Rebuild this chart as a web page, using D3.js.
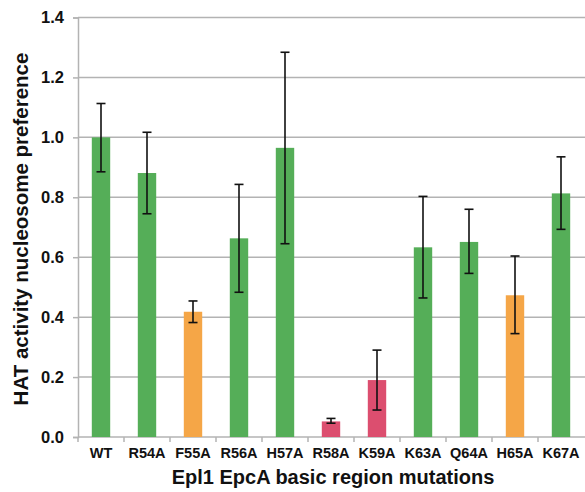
<!DOCTYPE html>
<html><head><meta charset="utf-8">
<script src="https://cdn.jsdelivr.net/npm/d3@7"></script>
<style>body{margin:0;background:#fff}svg{display:block}</style>
</head><body>
<script>
const categories = ["WT","R54A","F55A","R56A","H57A","R58A","K59A","K63A","Q64A","H65A","K67A"];
const values     = [1.000,0.881,0.418,0.663,0.965,0.052,0.190,0.633,0.651,0.473,0.813];
const errUpper   = [1.113,1.017,0.454,0.843,1.284,0.062,0.290,0.803,0.760,0.604,0.935];
const errLower   = [0.885,0.745,0.382,0.483,0.645,0.046,0.090,0.464,0.546,0.345,0.693];
const groups     = ["g","g","o","g","g","r","r","g","g","o","g"];
const yTicks     = [0,0.2,0.4,0.6,0.8,1.0,1.2,1.4];
const colors = {g:"#55AE58", o:"#F5A647", r:"#DC4E6F"};

const W=585,H=492;
const m={left:78,right:1,top:17.5,bottom:55};
const svg=d3.select("body").append("svg").attr("width",W).attr("height",H);
const x=d3.scaleBand().domain(categories).range([m.left,m.left+46*11]).paddingInner(0.6).paddingOuter(0.3);
const y=d3.scaleLinear().domain([0,1.4]).range([H-m.bottom,m.top]);

// gridlines
svg.append("g").selectAll("line").data(yTicks.slice(1)).join("line")
  .attr("x1",m.left).attr("x2",W).attr("y1",d=>y(d)).attr("y2",d=>y(d))
  .attr("stroke","#b3b3b3").attr("stroke-width",1.5);

// y axis
const ya=svg.append("g").attr("transform",`translate(${m.left},0)`)
  .call(d3.axisLeft(y).tickValues(yTicks).tickFormat(d3.format(".1f")).tickSize(5).tickPadding(9));
ya.select(".domain").attr("stroke","#b3b3b3").attr("stroke-width",1.5);
ya.selectAll(".tick line").attr("stroke","#b3b3b3").attr("stroke-width",1.5);
ya.selectAll("text").attr("font-family","Liberation Sans, Arial, sans-serif").attr("font-weight","bold").attr("font-size",16.5).attr("fill","#111");

// x axis line with boundary ticks
const x0=y(0);
svg.append("line").attr("x1",m.left).attr("x2",W).attr("y1",x0).attr("y2",x0).attr("stroke","#b3b3b3").attr("stroke-width",1.5);
const step=x.step();
svg.append("g").selectAll("line").data(categories).join("line")
  .attr("x1",d=>x(d)-(step-x.bandwidth())/2).attr("x2",d=>x(d)-(step-x.bandwidth())/2)
  .attr("y1",x0).attr("y2",x0+5).attr("stroke","#b3b3b3").attr("stroke-width",1.5);

// bars
svg.append("g").selectAll("rect").data(categories).join("rect")
  .attr("x",d=>x(d)).attr("width",x.bandwidth())
  .attr("y",(d,i)=>y(values[i])).attr("height",(d,i)=>y(0)-y(values[i]))
  .attr("fill",(d,i)=>colors[groups[i]]);

// error bars
const eb=svg.append("g").attr("stroke","#111").attr("stroke-width",1.6);
categories.forEach((c,i)=>{
  const cx=x(c)+x.bandwidth()/2;
  eb.append("line").attr("x1",cx).attr("x2",cx).attr("y1",y(errUpper[i])).attr("y2",y(errLower[i]));
  eb.append("line").attr("x1",cx-4.5).attr("x2",cx+4.5).attr("y1",y(errUpper[i])).attr("y2",y(errUpper[i]));
  eb.append("line").attr("x1",cx-4.5).attr("x2",cx+4.5).attr("y1",y(errLower[i])).attr("y2",y(errLower[i]));
});

// x tick labels
svg.append("g").selectAll("text").data(categories).join("text")
  .attr("x",d=>x(d)+x.bandwidth()/2).attr("y",458).attr("text-anchor","middle")
  .attr("font-family","Liberation Sans, Arial, sans-serif").attr("font-weight","bold").attr("font-size",14.5).attr("fill","#111")
  .text(d=>d);

// axis titles
svg.append("text").attr("x",333).attr("y",484).attr("text-anchor","middle")
  .attr("font-family","Liberation Sans, Arial, sans-serif").attr("font-weight","bold").attr("font-size",20).attr("fill","#111")
  .text("Epl1 EpcA basic region mutations");
svg.append("text").attr("transform","translate(28,229) rotate(-90)").attr("text-anchor","middle")
  .attr("font-family","Liberation Sans, Arial, sans-serif").attr("font-weight","bold").attr("font-size",20.5).attr("fill","#111")
  .text("HAT activity nucleosome preference");
</script>
</body></html>
